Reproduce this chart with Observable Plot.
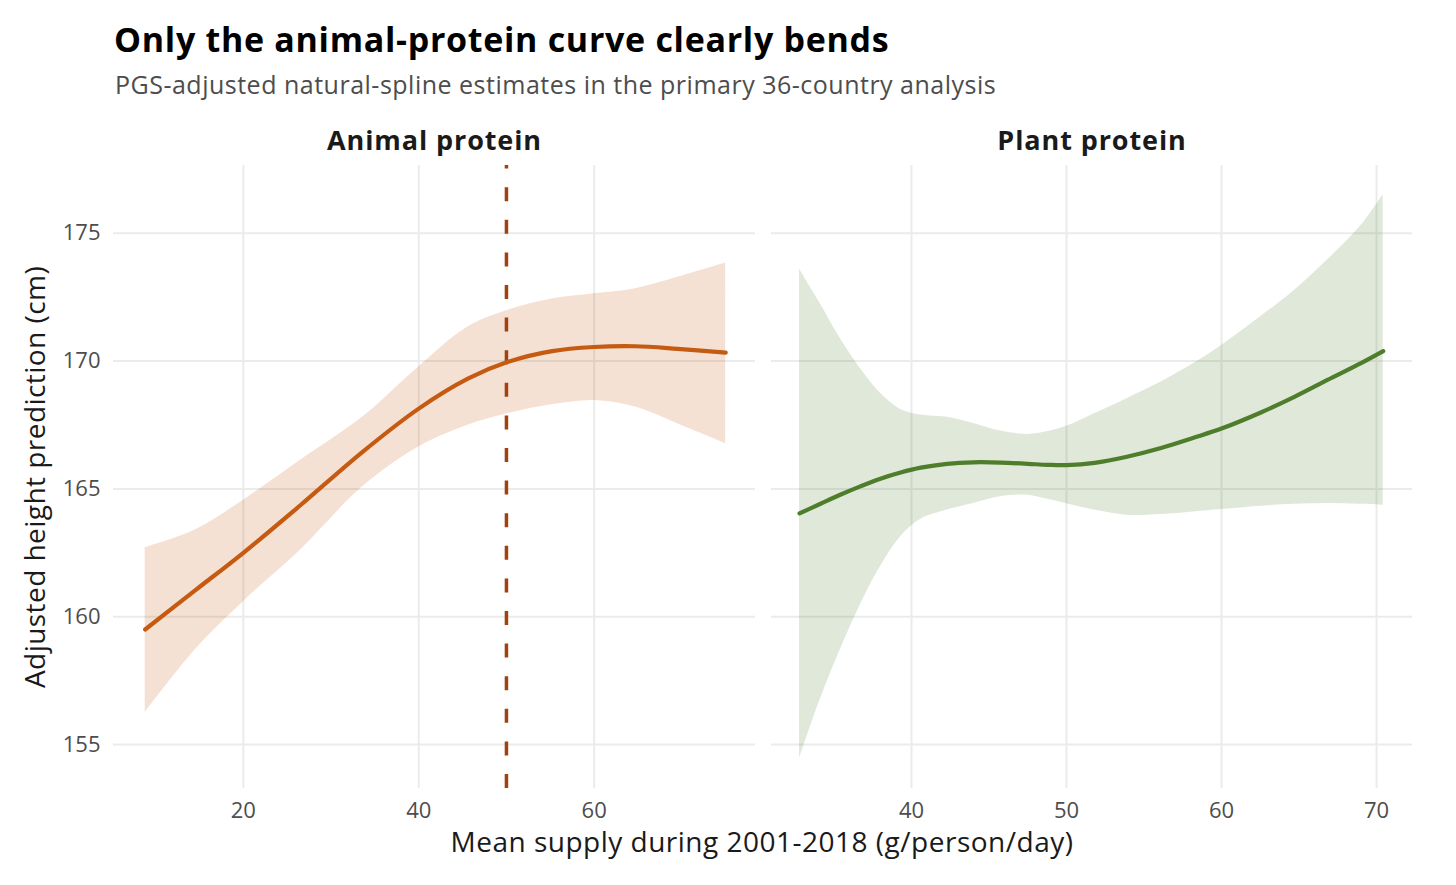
<!DOCTYPE html>
<html>
<head>
<meta charset="utf-8">
<script src="https://cdn.jsdelivr.net/npm/d3@7"></script>
<script src="https://cdn.jsdelivr.net/npm/@observablehq/plot@0.6"></script>
<style>
  html, body { margin: 0; padding: 0; background: #fff; }
  body { width: 1456px; height: 885px; position: relative; overflow: hidden; font-family: "Open Sans", sans-serif; }
  .abs { position: absolute; white-space: nowrap; line-height: 1; }
  #title { left: 114px; top: 22px; font-size: 34px; font-weight: 700; color: #000; letter-spacing: 0.7px; }
  #subtitle { left: 115px; top: 72px; font-size: 25px; color: #4d4d4d; letter-spacing: 0.5px; }
  #xtitle { left: 62px; width: 1400px; text-align: center; top: 827px; font-size: 28px; color: #1a1a1a; letter-spacing: 0.5px; }
  #p1 { position: absolute; left: 0; top: 110px; }
  #p2 { position: absolute; left: 762px; top: 110px; }
  .strip { letter-spacing: 0.9px; }
  .ytitle { letter-spacing: 0.45px; }
</style>
</head>
<body>
<div id="title" class="abs">Only the animal-protein curve clearly bends</div>
<div id="subtitle" class="abs">PGS-adjusted natural-spline estimates in the primary 36-country analysis</div>
<div id="p1"></div>
<div id="p2"></div>
<div id="xtitle" class="abs">Mean supply during 2001-2018 (g/person/day)</div>
<script>
// ---- data ----
const panelLabels = ["Animal protein", "Plant protein"];
const yTitle = "Adjusted height prediction (cm)";
const yTicks = [155, 160, 165, 170, 175];
const animalTicks = [20, 40, 60];
const plantTicks = [40, 50, 60, 70];
const thresholdX = [50];

const animalX     = [8.8, 14.5, 20, 26.5, 33.6, 40, 45.6, 50.1, 55.2, 60, 64.7, 69.5, 75.0];
const animalFit   = [159.5, 161.03, 162.5, 164.36, 166.45, 168.14, 169.31, 169.96, 170.39, 170.55, 170.58, 170.48, 170.33];
const animalUpper = [162.7, 163.39, 164.56, 166.12, 167.81, 169.77, 171.33, 171.98, 172.43, 172.63, 172.83, 173.28, 173.84];
const animalLower = [156.25, 158.7, 160.59, 162.6, 165.08, 166.64, 167.49, 167.94, 168.29, 168.46, 168.2, 167.55, 166.77];

const plantX     = [32.78, 34.1, 35.4, 36.7, 38.0, 39.3, 40.6, 42.3, 44.0, 45.75, 47.5, 48.8, 50, 51.8, 53.9, 56.1, 58.2, 60, 62.5, 64.7, 66.8, 69.0, 70.43];
const plantFit   = [164.04, 164.41, 164.77, 165.1, 165.4, 165.64, 165.83, 165.98, 166.04, 166.03, 165.98, 165.94, 165.93, 166.02, 166.26, 166.6, 167.0, 167.36, 167.98, 168.6, 169.25, 169.92, 170.39];
const plantUpper = [173.59, 172.26, 170.89, 169.71, 168.74, 168.11, 167.89, 167.8, 167.56, 167.26, 167.13, 167.24, 167.45, 167.94, 168.53, 169.18, 169.9, 170.61, 171.72, 172.76, 173.93, 175.3, 176.51];
const plantLower = [154.46, 156.74, 158.7, 160.46, 161.96, 163.13, 163.81, 164.17, 164.43, 164.69, 164.75, 164.59, 164.42, 164.17, 163.97, 164.0, 164.1, 164.19, 164.32, 164.4, 164.43, 164.4, 164.36];

// ---- build tables ----
const animal = animalX.map((x, i) => ({x, fit: animalFit[i], lo: animalLower[i], hi: animalUpper[i]}));
const plant = plantX.map((x, i) => ({x, fit: plantFit[i], lo: plantLower[i], hi: plantUpper[i]}));

const yDomain = [153.28, 177.65];
const gridColor = "#ebebeb";
const animalColor = "#c55a11";
const dashColor = "#a2410f";
const plantColor = "#4e7d2b";
const font = "Open Sans";
const common = {
  height: 775,
  marginTop: 55,
  marginBottom: 97,
  style: {fontFamily: font, overflow: "visible", background: "transparent"}
};

const p1 = Plot.plot({
  ...common,
  width: 762,
  marginLeft: 113,
  marginRight: 7,
  x: {domain: [5.19, 78.4]},
  y: {domain: yDomain},
  marks: [
    Plot.ruleY(yTicks, {stroke: gridColor, strokeWidth: 2}),
    Plot.ruleX(animalTicks, {stroke: gridColor, strokeWidth: 2}),
    Plot.areaY(animal, {x: "x", y1: "lo", y2: "hi", fill: animalColor, fillOpacity: 0.18, curve: "catmull-rom"}),
    Plot.ruleX(thresholdX.map(v => ({x: v, a: yDomain[0], b: yDomain[1]})), {x: "x", y1: "a", y2: "b", stroke: dashColor, strokeWidth: 3.5, strokeDasharray: "14,18.6"}),
    Plot.line(animal, {x: "x", y: "fit", stroke: animalColor, strokeWidth: 4.2, curve: "catmull-rom"}),
    Plot.axisY(yTicks, {tickSize: 0, tickPadding: 13, fontSize: 22, fill: "#4d4d4d", label: null}),
    Plot.axisX(animalTicks, {tickSize: 0, tickPadding: 14, fontSize: 22, fill: "#4d4d4d", label: null}),
    Plot.text([panelLabels[0]], {text: d => d, frameAnchor: "top", lineAnchor: "middle", dy: -24.5, fontSize: 27, fontWeight: "bold", fill: "#1a1a1a", className: "strip"}),
    Plot.text([yTitle], {text: d => d, frameAnchor: "left", lineAnchor: "middle", dx: -77, rotate: -90, fontSize: 28, fill: "#1a1a1a", textAnchor: "middle", className: "ytitle"})
  ]
});
document.getElementById("p1").appendChild(p1);

const p2 = Plot.plot({
  ...common,
  width: 694,
  marginLeft: 9,
  marginRight: 44,
  x: {domain: [30.97, 72.32]},
  y: {domain: yDomain, axis: null},
  marks: [
    Plot.ruleY(yTicks, {stroke: gridColor, strokeWidth: 2}),
    Plot.ruleX(plantTicks, {stroke: gridColor, strokeWidth: 2}),
    Plot.areaY(plant, {x: "x", y1: "lo", y2: "hi", fill: plantColor, fillOpacity: 0.175, curve: "catmull-rom"}),
    Plot.line(plant, {x: "x", y: "fit", stroke: plantColor, strokeWidth: 4.2, curve: "catmull-rom"}),
    Plot.axisX(plantTicks, {tickSize: 0, tickPadding: 14, fontSize: 22, fill: "#4d4d4d", label: null}),
    Plot.text([panelLabels[1]], {text: d => d, frameAnchor: "top", lineAnchor: "middle", dy: -24.5, fontSize: 27, fontWeight: "bold", fill: "#1a1a1a", className: "strip"})
  ]
});
document.getElementById("p2").appendChild(p2);
</script>
</body>
</html>
